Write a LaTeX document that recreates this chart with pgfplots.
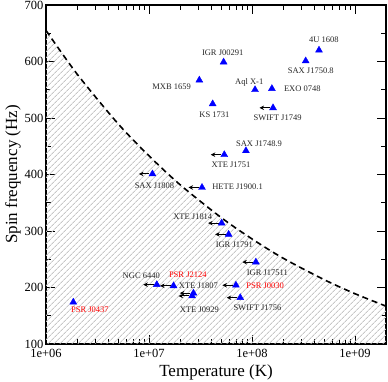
\documentclass[border=0pt]{standalone}
\usepackage{fontspec}
\setmainfont{Liberation Serif}
\usepackage{pgfplots}
\pgfplotsset{compat=1.18}
\usetikzlibrary{patterns.meta,arrows.meta}

% upper limit arrow drawn left of a point
\pgfdeclareplotmark{uplim}{%
  \pgfsetarrows{-{Stealth[length=4.5pt,width=4.5pt]}}%
  \pgfpathmoveto{\pgfpoint{-3pt}{0pt}}%
  \pgfpathlineto{\pgfpoint{-13.5pt}{0pt}}%
  \pgfusepath{stroke}}

\begin{document}
\begin{tikzpicture}[
    lbl/.style={font=\fontsize{8.5}{9}\selectfont, text=black!85, inner sep=0pt},
    rlbl/.style={lbl, text=red},
  ]
  \path[use as bounding box] (-46pt,-38pt) rectangle (342pt,344pt);
  \begin{axis}[
    scale only axis,
    width=340pt, height=339pt,
    xmode=log,
    xmin=1e6, xmax=2e9,
    ymin=100, ymax=700,
    xtick={1e6,1e7,1e8,1e9},
    xticklabels={1e+06,1e+07,1e+08,1e+09},
    ytick={100,200,...,700},
    minor y tick num=1,
    tick align=inside,
    major tick length=9pt, minor tick length=5pt,
    every tick/.style={black, line width=0.8pt},
    axis line style={line width=1.1pt},
    tick label style={font=\fontsize{12.5}{12.5}\selectfont},
    /pgf/number format/assume math mode=true,
    xticklabel style={yshift=-2pt},
    yticklabel style={xshift=1pt},
    xlabel={Temperature (K)},
    ylabel={Spin frequency (Hz)},
    label style={font=\fontsize{17}{17}\selectfont},
    xlabel style={yshift=0pt},
    ylabel style={yshift=-3pt},
  ]
    % hatched region below the limiting curve
    \addplot[draw=none, pattern={Lines[angle=45,distance=4pt,line width=0.9pt]},
      pattern color=black!22] coordinates {
      (1e6,655) (2e6,578) (5e6,490) (1e7,433) (2e7,382) (5e7,324)
      (1e8,286) (2e8,252) (5e8,214) (1e9,189) (2e9,167)
    } \closedcycle;

    % limiting curve
    \addplot[black, line width=1.6pt, dash pattern=on 6pt off 4pt, smooth] coordinates {
      (1e6,655) (2e6,578) (5e6,490) (1e7,433) (2e7,382) (5e7,324)
      (1e8,286) (2e8,252) (5e8,214) (1e9,189) (2e9,167)
    };

    % upper limits on temperature
    \addplot[only marks, mark=uplim, mark options={black, line width=1pt}] coordinates {
      (1.19e7,205) (1.73e7,203) (2.70e7,190) (2.62e7,185)
      (1.09e8,245) (6.98e7,204) (7.69e7,182) (5.93e7,294)
      (5.07e7,314) (3.27e7,377) (1.08e7,401) (5.38e7,435) (1.60e8,518)
    };

    % sources
    \addplot[only marks, mark=triangle*, mark size=4pt, color=blue] coordinates {
      (1.84e6,174) (8.73e7,442) (4.15e7,525) (3.08e7,567) (5.30e7,599)
      (1.07e8,550) (1.56e8,552) (3.32e8,601) (4.47e8,620)
      (1.19e7,205) (1.73e7,203) (2.70e7,190) (2.62e7,185)
      (1.09e8,245) (6.98e7,204) (7.69e7,182) (5.93e7,294)
      (5.07e7,314) (3.27e7,377) (1.08e7,401) (5.38e7,435) (1.60e8,518)
    };

    \node[lbl] at (axis cs:5.19e7,615) {IGR J00291};
    \node[lbl] at (axis cs:1.66e7,556) {MXB 1659};
    \node[lbl] at (axis cs:4.31e7,506) {KS 1731};
    \node[lbl] at (axis cs:9.4e7,563) {Aql X-1};
    \node[lbl] at (axis cs:3.08e8,551) {EXO 0748};
    \node[lbl] at (axis cs:1.77e8,501) {SWIFT J1749};
    \node[lbl] at (axis cs:3.72e8,583) {SAX J1750.8};
    \node[lbl] at (axis cs:4.99e8,639) {4U 1608};
    \node[lbl] at (axis cs:1.17e8,454) {SAX J1748.9};
    \node[lbl] at (axis cs:6.25e7,418) {XTE J1751};
    \node[lbl] at (axis cs:7.24e7,379) {HETE J1900.1};
    \node[lbl] at (axis cs:1.13e7,381) {SAX J1808};
    \node[lbl] at (axis cs:2.66e7,325) {XTE J1814};
    \node[lbl] at (axis cs:6.73e7,275) {IGR J1791};
    \node[lbl] at (axis cs:1.41e8,226) {IGR J17511};
    \node[rlbl] at (axis cs:1.34e8,203) {PSR J0030};
    \node[lbl] at (axis cs:1.13e8,165) {SWIFT J1756};
    \node[lbl] at (axis cs:3.02e7,203) {XTE J1807};
    \node[lbl] at (axis cs:3.08e7,160) {XTE J0929};
    \node[rlbl] at (axis cs:2.38e7,223) {PSR J2124};
    \node[lbl] at (axis cs:8.41e6,221) {NGC 6440};
    \node[rlbl] at (axis cs:2.67e6,160) {PSR J0437};
  \end{axis}
\end{tikzpicture}
\end{document}
